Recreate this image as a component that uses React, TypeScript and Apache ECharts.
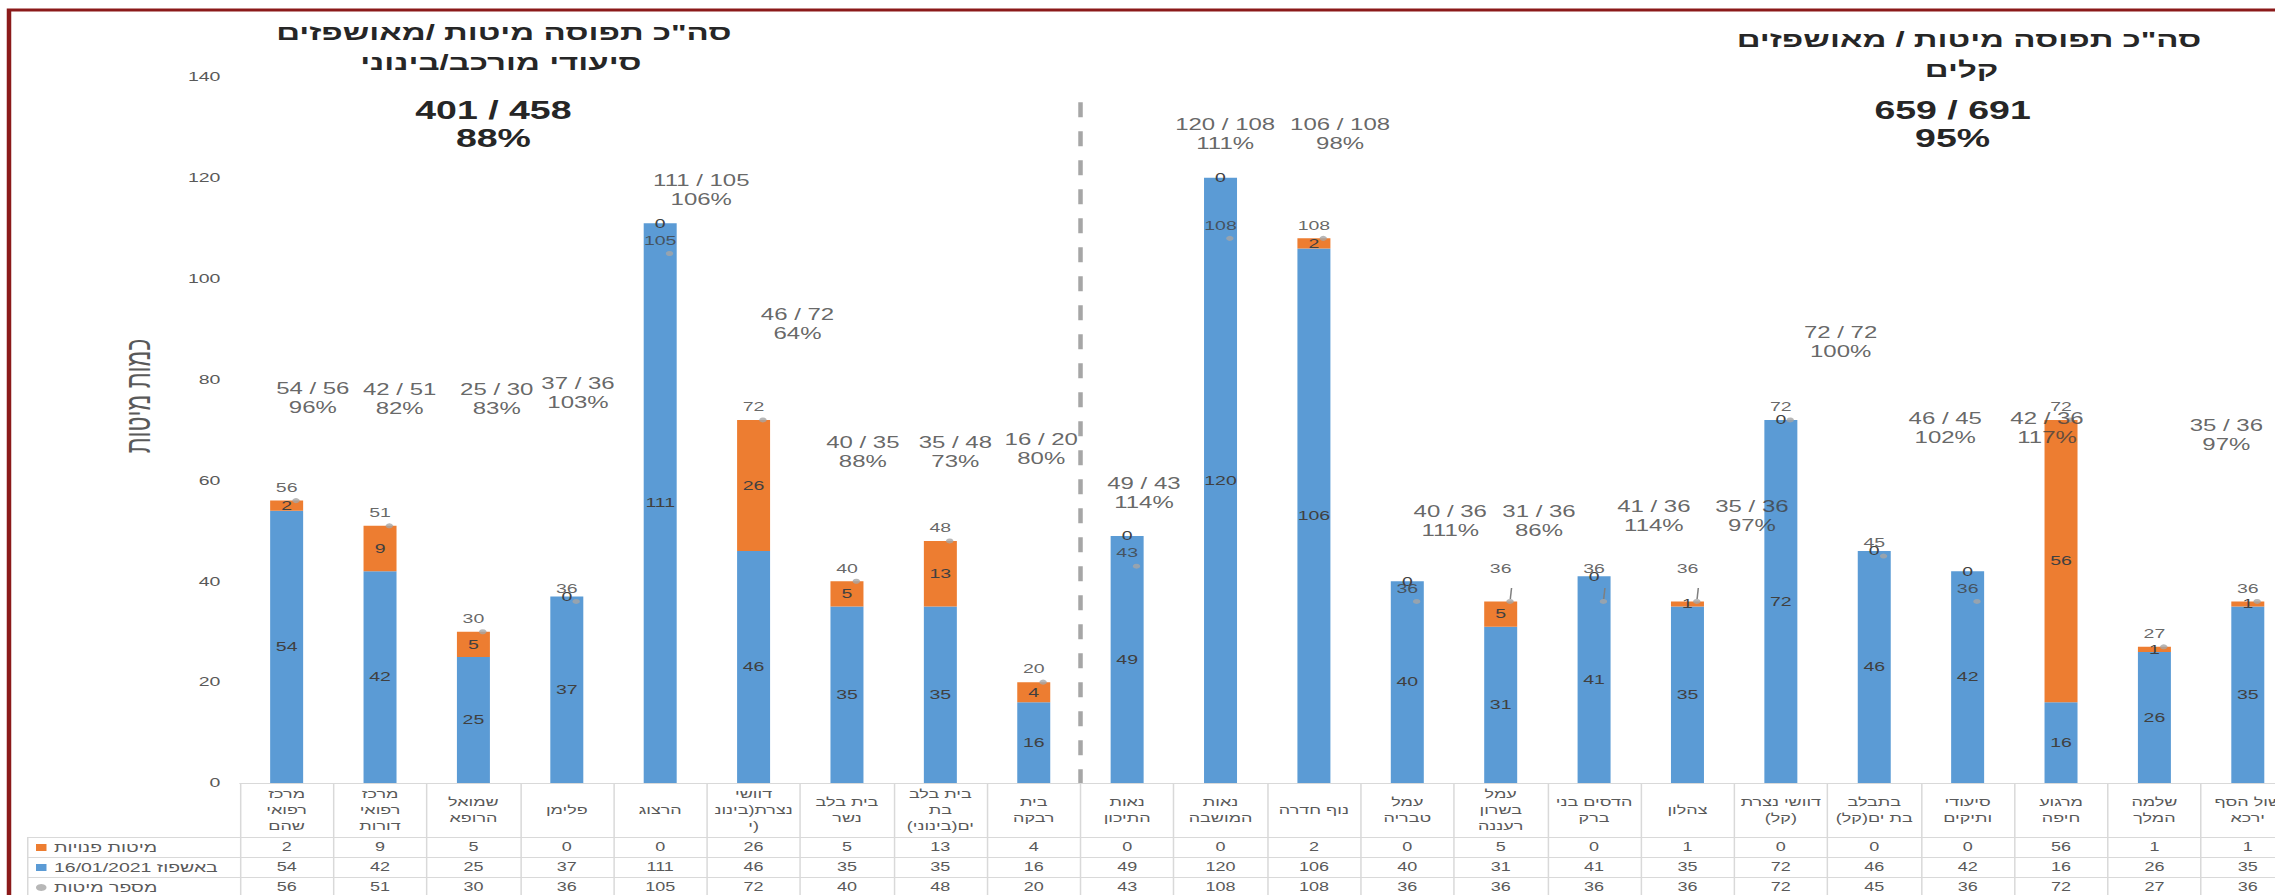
import React, { useEffect, useRef } from "react";
import * as echarts from "echarts";

const FULL_W = 2275;
const FULL_H = 895;
const BASE_W = 1517;
const CHART_W = 1545;
const STRETCH = FULL_W / BASE_W;
const FONT = "'Liberation Sans', 'DejaVu Sans', Arial, sans-serif";

// ---------- data ----------
const categories = [
  "מרכז\nרפואי\nשהם",
  "מרכז\nרפואי\nדורות",
  "שמואל\nהרופא",
  "פלימן",
  "הרצוג",
  "דוושי\nנצרת(בינונ\nי)",
  "בית בלב\nנשר",
  "בית בלב\nבת\nים(בינוני)\u200F",
  "בית\nרבקה",
  "נאות\nהתיכון",
  "נאות\nהמושבה",
  "נוף חדרה",
  "עמל\nטבריה",
  "עמל\nבשרון\nרעננה",
  "הדסים בני\nברק",
  "צהלון",
  "דוושי נצרת\n(קל)",
  "בתבלב\nבת ים(קל)\u200F",
  "סיעודי\nותיקים",
  "מרגוע\nחיפה",
  "שלמה\nהמלך",
  "שול הסף\nירכא",
];

const freeBeds = [2, 9, 5, 0, 0, 26, 5, 13, 4, 0, 0, 2, 0, 5, 0, 1, 0, 0, 0, 56, 1, 1];
const hospitalized = [54, 42, 25, 37, 111, 46, 35, 35, 16, 49, 120, 106, 40, 31, 41, 35, 72, 46, 42, 16, 26, 35];
const totalBeds = [56, 51, 30, 36, 105, 72, 40, 48, 20, 43, 108, 108, 36, 36, 36, 36, 72, 45, 36, 72, 27, 36];

const seriesNames = {
  free: "מיטות פנויות",
  hosp: "באשפוז 16/01/2021",
  beds: "מספר מיטות",
};

const groupSplit = 9;
const groupTitle1 = ["סה\"כ תפוסה מיטות /מאושפזים", "סיעודי מורכב/בינוני"];
const groupTitle2 = ["סה\"כ תפוסה מיטות / מאושפזים", "קלים"];
const yAxisTitle = "כמות מיטות";

// annotation texts (null = none)
const annotTop = ["54 / 56", "42 / 51", "25 / 30", "37 / 36", "111 / 105", "46 / 72", "40 / 35", "35 / 48", "16 / 20", "49 / 43", "120 / 108", "106 / 108", "40 / 36", "31 / 36", "41 / 36", "35 / 36", "72 / 72", "46 / 45", "42 / 36", null, null, "35 / 36"];
const annotPct = ["96%", "82%", "83%", "103%", "106%", "64%", "88%", "73%", "80%", "114%", "111%", "98%", "111%", "86%", "114%", "97%", "100%", "102%", "117%", null, null, "97%"];

// ---------- layout (annotation placement, in category units / value units) ----------
const annotDx = [0.28, 0.21, 0.25, 0.12, 0.44, 0.47, 0.17, 0.16, 0.08, 0.18, 0.05, 0.28, 0.46, 0.41, 0.64, 0.69, 0.64, 0.76, 0.85, 0, 0, -0.23];
const annotY = [76.4, 76.1, 76.1, 77.4, 117.6, 91.0, 65.7, 65.7, 66.3, 57.6, 128.6, 128.6, 52.0, 52.0, 53.0, 53.0, 87.4, 70.3, 70.3, 0, 0, 69.1];
const leaderLabels = [13, 14, 15];
const DOT_SHIFT = 0.1;

const sum = (a: number[]) => a.reduce((s, v) => s + v, 0);

function buildOption() {
  const g1h = sum(hospitalized.slice(0, groupSplit));
  const g1b = sum(totalBeds.slice(0, groupSplit));
  const g2h = sum(hospitalized.slice(groupSplit));
  const g2b = sum(totalBeds.slice(groupSplit));

  const gridLeft = 160;
  const gridTop = 77;
  const gridW = 1370;
  const gridH = 706;
  const axisY = gridTop + gridH;
  const catW = gridW / categories.length;
  const dotPx = DOT_SHIFT * catW;

  const labelColor = "#595959";
  const lineColor = "#d9d9d9";

  const rowAxis = (vals: number[], offset: number) => ({
    type: "category",
    data: vals.map(String),
    position: "bottom",
    offset,
    axisLine: { show: true, lineStyle: { color: lineColor, width: 1 } },
    axisTick: { show: false },
    axisLabel: {
      interval: 0,
      margin: 10,
      verticalAlign: "middle",
      fontSize: 12,
      color: labelColor,
      fontFamily: FONT,
    },
    splitLine: { show: false },
  });

  const annotData: any[] = [];
  annotTop.forEach((t, i) => {
    if (t !== null) annotData.push({ value: [i + 0.5 + annotDx[i], annotY[i]], idx: i });
  });

  const txt = (x: number, y: number, text: string, size: number, bold = true) => ({
    type: "text",
    x,
    y,
    silent: true,
    style: {
      text,
      fill: "#262626",
      fontSize: size,
      fontWeight: bold ? "bold" : "normal",
      fontFamily: FONT,
      align: "center",
      verticalAlign: "middle",
      textAlign: "center",
      textVerticalAlign: "middle",
    },
  });

  const hline = (x1: number, x2: number, y: number) => ({
    type: "line",
    silent: true,
    shape: { x1, y1: y + 0.5, x2, y2: y + 0.5 },
    style: { stroke: lineColor, lineWidth: 1 },
  });

  return {
    animation: false,
    backgroundColor: "#ffffff",
    textStyle: { fontFamily: FONT },
    grid: { left: gridLeft, top: gridTop, width: gridW, height: gridH, containLabel: false },
    legend: {
      orient: "vertical",
      left: 24,
      top: axisY + 57,
      padding: 0,
      itemWidth: 7,
      itemHeight: 7,
      itemGap: 5,
      selectedMode: false,
      textStyle: { fontSize: 13, lineHeight: 15, color: labelColor, fontFamily: FONT },
      data: [
        { name: seriesNames.free, icon: "rect" },
        { name: seriesNames.hosp, icon: "rect" },
        { name: seriesNames.beds, icon: "circle" },
      ],
    },
    xAxis: [
      {
        type: "category",
        data: categories,
        position: "bottom",
        axisLine: { show: true, lineStyle: { color: lineColor, width: 1 } },
        axisTick: { show: true, length: 120, lineStyle: { color: lineColor } },
        axisLabel: {
          interval: 0,
          margin: 27,
          verticalAlign: "middle",
          fontSize: 12,
          lineHeight: 16,
          color: labelColor,
          fontFamily: FONT,
        },
        splitLine: { show: false },
      },
      rowAxis(freeBeds, 54),
      rowAxis(hospitalized, 74),
      rowAxis(totalBeds, 94),
      { type: "value", min: 0, max: categories.length, show: false },
    ],
    yAxis: {
      type: "value",
      min: 0,
      max: 140,
      interval: 20,
      name: yAxisTitle,
      nameLocation: "middle",
      nameGap: 57,
      nameRotate: 90,
      nameTextStyle: { fontSize: 23, color: labelColor, fontFamily: FONT, padding: [0, 0, 0, 68] },
      axisLine: { show: false },
      axisTick: { show: false },
      splitLine: { show: false },
      axisLabel: { fontSize: 13, color: labelColor, margin: 13, fontFamily: FONT },
    },
    series: [
      {
        name: seriesNames.hosp,
        type: "bar",
        stack: "beds",
        data: hospitalized,
        barWidth: 22,
        itemStyle: { color: "#5B9BD5" },
        label: { show: true, position: "inside", fontSize: 13, color: "#404040", fontFamily: FONT },
        z: 2,
      },
      {
        name: seriesNames.free,
        type: "bar",
        stack: "beds",
        data: freeBeds,
        barWidth: 22,
        itemStyle: { color: "#ED7D31" },
        label: { show: true, position: "inside", fontSize: 13, color: "#404040", fontFamily: FONT },
        z: 2,
      },
      {
        name: seriesNames.beds,
        type: "scatter",
        xAxisIndex: 4,
        yAxisIndex: 0,
        data: totalBeds.map((v, i) =>
          leaderLabels.includes(i)
            ? {
                value: [i + 0.5 + DOT_SHIFT, v],
                label: { offset: [-dotPx, -20] },
                labelLine: { show: true },
              }
            : { value: [i + 0.5 + DOT_SHIFT, v] }
        ),
        symbol: "circle",
        symbolSize: 5,
        itemStyle: { color: "#A5A5A5" },
        label: {
          show: true,
          position: "top",
          distance: 4,
          offset: [-dotPx, 0],
          fontSize: 13,
          color: "#404040",
          fontFamily: FONT,
          formatter: (p: any) => String(p.value[1]),
        },
        labelLine: { show: false, lineStyle: { color: "#7f7f7f", width: 1 } },
        z: 5,
      },
      {
        type: "scatter",
        xAxisIndex: 4,
        yAxisIndex: 0,
        data: annotData,
        symbolSize: 1,
        itemStyle: { color: "rgba(0,0,0,0)" },
        silent: true,
        label: {
          show: true,
          position: "inside",
          fontSize: 16,
          lineHeight: 19,
          color: "#404040",
          fontFamily: FONT,
          formatter: (p: any) => `${annotTop[p.data.idx]}\n${annotPct[p.data.idx]}`,
        },
        markLine: {
          silent: true,
          symbol: ["none", "none"],
          label: { show: false },
          lineStyle: { color: "#a6a6a6", width: 3, type: [15, 14] },
          data: [[{ coord: [groupSplit, 135] }, { coord: [groupSplit, 0] }]],
        },
        z: 6,
      },
    ],
    graphic: [
      {
        type: "rect",
        silent: true,
        shape: { x: 6, y: 10, width: 3000, height: 3000 },
        style: { fill: "none", stroke: "#8b1a1a", lineWidth: 3 },
        z: 100,
      },
      txt(336, 33, groupTitle1[0], 22),
      txt(334, 63, groupTitle1[1], 22),
      txt(329, 110, `${g1h} / ${g1b}`, 25),
      txt(329, 138, `${Math.round((g1h / g1b) * 100)}%`, 25),
      txt(1313, 40, groupTitle2[0], 22),
      txt(1308, 70, groupTitle2[1], 22),
      txt(1302, 110, `${g2h} / ${g2b}`, 25),
      txt(1302, 138, `${Math.round((g2h / g2b) * 100)}%`, 25),
      hline(18, gridLeft, axisY + 54),
      hline(18, gridLeft, axisY + 74),
      hline(18, gridLeft, axisY + 94),
      {
        type: "line",
        silent: true,
        shape: { x1: 18.5, y1: axisY + 54, x2: 18.5, y2: FULL_H + 10 },
        style: { stroke: lineColor, lineWidth: 1 },
      },
    ],
  };
}

export default function App() {
  const ref = useRef<HTMLDivElement>(null);
  useEffect(() => {
    if (!ref.current) return;
    const chart = echarts.init(ref.current, undefined, { renderer: "svg", width: CHART_W, height: FULL_H });
    chart.setOption(buildOption() as any);
    return () => chart.dispose();
  }, []);
  return (
    <div
      style={{
        position: "fixed",
        left: 0,
        top: 0,
        width: FULL_W,
        height: FULL_H,
        overflow: "hidden",
        background: "#ffffff",
      }}
    >
      <div
        ref={ref}
        style={{
          width: CHART_W,
          height: FULL_H,
          transform: `scaleX(${STRETCH})`,
          transformOrigin: "0 0",
        }}
      />
    </div>
  );
}
